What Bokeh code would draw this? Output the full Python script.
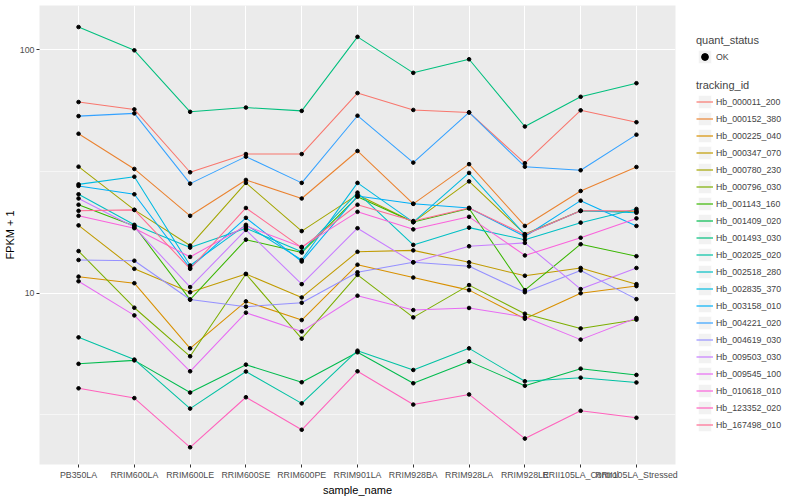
from bokeh.plotting import figure
from bokeh.layouts import row
from bokeh.models import FactorRange, Range1d, FixedTicker, Legend, LegendItem, PrintfTickFormatter
from bokeh.embed import file_html
from bokeh.resources import INLINE

FONT = "Liberation Sans"

samples = ["PB350LA", "RRIM600LA", "RRIM600LE", "RRIM600SE", "RRIM600PE", "RRIM901LA",
           "RRIM928BA", "RRIM928LA", "RRIM928LE", "RRII105LA_Control", "RRII105LA_Stressed"]

tracking_ids = ["Hb_000011_200", "Hb_000152_380", "Hb_000225_040", "Hb_000347_070",
                "Hb_000780_230", "Hb_000796_030", "Hb_001143_160", "Hb_001409_020",
                "Hb_001493_030", "Hb_002025_020", "Hb_002518_280", "Hb_002835_370",
                "Hb_003158_010", "Hb_004221_020", "Hb_004619_030", "Hb_009503_030",
                "Hb_009545_100", "Hb_010618_010", "Hb_123352_020", "Hb_167498_010"]

# FPKM + 1 per sample
Hb_000011_200 = [61.0, 56.9, 31.4, 37.3, 37.3, 66.4, 56.6, 55.3, 34.2, 56.4, 50.4]
Hb_000152_380 = [45.2, 32.4, 20.8, 29.2, 24.5, 38.4, 23.3, 33.9, 18.9, 26.3, 33.0]
Hb_000225_040 = [11.7, 11.0, 5.94, 9.26, 7.76, 13.1, 11.6, 10.3, 7.86, 10.0, 10.7]
Hb_000347_070 = [19.0, 12.6, 10.1, 12.0, 9.61, 14.8, 15.0, 13.4, 11.8, 12.7, 10.9]
Hb_000780_230 = [33.1, 22.0, 15.7, 28.4, 18.0, 25.4, 19.6, 28.8, 17.5, 21.8, 21.6]
Hb_000796_030 = [14.9, 8.72, 5.51, 12.0, 6.51, 11.9, 7.96, 10.8, 8.24, 7.17, 7.79]
Hb_001143_160 = [23.1, 18.9, 9.41, 16.6, 14.7, 24.9, 19.6, 22.3, 10.3, 15.9, 14.2]
Hb_001409_020 = [5.13, 5.30, 3.91, 5.09, 4.31, 5.72, 4.27, 5.25, 4.17, 4.90, 4.62]
Hb_001493_030 = [124.0, 99.5, 55.6, 57.9, 56.1, 113.0, 80.4, 91.4, 48.4, 64.1, 72.9]
Hb_002025_020 = [6.59, 5.34, 3.36, 4.77, 3.53, 5.81, 4.84, 5.94, 4.35, 4.50, 4.30]
Hb_002518_280 = [25.5, 19.1, 15.4, 18.5, 14.8, 25.9, 15.8, 18.6, 16.6, 19.5, 22.2]
Hb_002835_370 = [28.0, 30.1, 13.0, 19.1, 13.7, 28.4, 19.6, 31.2, 17.4, 21.8, 21.4]
Hb_003158_010 = [27.6, 25.5, 12.7, 20.4, 13.5, 25.1, 23.3, 22.4, 17.1, 24.0, 18.9]
Hb_004221_020 = [53.4, 54.8, 28.2, 36.4, 28.4, 53.6, 34.4, 55.3, 33.1, 32.0, 44.8]
Hb_004619_030 = [13.7, 13.6, 9.43, 8.81, 9.14, 12.2, 13.4, 12.9, 10.1, 12.4, 9.46]
Hb_009503_030 = [24.5, 18.7, 10.6, 18.2, 10.9, 18.5, 13.4, 15.6, 16.1, 10.4, 12.7]
Hb_009545_100 = [11.2, 8.11, 4.78, 8.32, 6.97, 9.77, 8.53, 8.70, 7.99, 6.45, 7.91]
Hb_010618_010 = [20.8, 18.5, 14.1, 18.9, 15.5, 21.6, 18.3, 20.6, 14.3, 16.9, 20.3]
Hb_123352_020 = [4.07, 3.71, 2.33, 3.74, 2.75, 4.78, 3.49, 3.84, 2.53, 3.29, 3.08]
Hb_167498_010 = [21.8, 22.0, 12.6, 22.4, 15.4, 23.1, 19.8, 22.4, 17.4, 21.8, 21.8]

series = [Hb_000011_200, Hb_000152_380, Hb_000225_040, Hb_000347_070, Hb_000780_230,
          Hb_000796_030, Hb_001143_160, Hb_001409_020, Hb_001493_030, Hb_002025_020,
          Hb_002518_280, Hb_002835_370, Hb_003158_010, Hb_004221_020, Hb_004619_030,
          Hb_009503_030, Hb_009545_100, Hb_010618_010, Hb_123352_020, Hb_167498_010]

colors = ["#F8766D", "#EA8331", "#D89000", "#C09B00", "#A3A500", "#7CAE00", "#39B600",
          "#00BB4E", "#00BF7D", "#00C1A3", "#00BFC4", "#00BAE0", "#00B0F6", "#35A2FF",
          "#9590FF", "#C77CFF", "#E76BF3", "#FA62DB", "#FF62BC", "#FF6C91"]

H = 498
p = figure(width=680, height=H,
           x_range=FactorRange(factors=samples, range_padding=0.2, range_padding_units="absolute"),
           y_range=Range1d(1.98, 152), y_axis_type="log",
           output_backend="svg", toolbar_location=None,
           min_border_left=32, min_border_right=5, min_border_top=5, min_border_bottom=0)

p.background_fill_color = "#EBEBEB"
p.border_fill_color = "white"
p.outline_line_color = None

p.xgrid.grid_line_color = "white"
p.xgrid.grid_line_width = 1.1
p.ygrid.ticker = FixedTicker(ticks=[10, 100], minor_ticks=[10 ** 0.5, 10 ** 1.5])
p.ygrid.grid_line_color = "white"
p.ygrid.grid_line_width = 1.1
p.ygrid.minor_grid_line_color = "white"
p.ygrid.minor_grid_line_width = 0.55

p.yaxis.ticker = FixedTicker(ticks=[10, 100])
p.yaxis.formatter = PrintfTickFormatter(format="%d")
for ax in (p.xaxis[0], p.yaxis[0]):
    ax.axis_line_color = None
    ax.major_tick_in = 0
    ax.major_tick_out = 3
    ax.major_tick_line_color = "#333333"
    ax.minor_tick_line_color = None
    ax.major_label_text_font = FONT
    ax.major_label_text_font_size = "8.8px"
    ax.major_label_text_color = "#4D4D4D"
    ax.major_label_standoff = 2
    ax.axis_label_text_font = FONT
    ax.axis_label_text_font_size = "11px"
    ax.axis_label_text_font_style = "normal"
    ax.axis_label_text_color = "black"
    ax.axis_label_standoff = 1
p.xaxis.axis_label = "sample_name"
p.yaxis.axis_label = "FPKM + 1"

for vals, col in zip(series, colors):
    p.line(x=samples, y=vals, line_color=col, line_width=1.05)
for vals in series:
    p.scatter(x=samples, y=vals, size=3.6, color="black")

# legend panel (key renderers hold one off-screen point so the legend draws them)
q = figure(width=104, height=H, x_range=Range1d(0, 104), y_range=Range1d(0, H),
           output_backend="svg", toolbar_location=None,
           x_axis_location=None, y_axis_location=None,
           min_border_left=0, min_border_right=0, min_border_top=0, min_border_bottom=0)
q.grid.visible = False
q.outline_line_color = None
q.background_fill_color = "white"
q.border_fill_color = "white"

off = [-50.0, -40.0]
bg = q.quad(left=[off[0]], right=[off[1]], top=[off[0]], bottom=[off[1]],
            fill_color="#F2F2F2", line_color="white", line_width=1)
ok_key = q.scatter(x=[off[0]], y=[off[0]], size=4, color="black")
key_lines = [q.line(x=off, y=off, line_color=col, line_width=1.2) for col in colors]


def style(leg):
    leg.border_line_color = None
    leg.background_fill_alpha = 0
    leg.padding = 0
    leg.margin = 0
    leg.spacing = 0
    leg.glyph_width = 17
    leg.glyph_height = 17
    leg.label_height = 17
    leg.label_standoff = 3
    leg.title_text_font = FONT
    leg.title_text_font_size = "11px"
    leg.title_text_font_style = "normal"
    leg.title_standoff = 2
    leg.label_text_font = FONT
    leg.label_text_font_size = "8.8px"


leg1 = Legend(items=[LegendItem(label="OK", renderers=[bg, ok_key])],
              title="quant_status", location=(16, H - 66 - 33))
leg2 = Legend(items=[LegendItem(label=t, renderers=[bg, key_lines[i]]) for i, t in enumerate(tracking_ids)],
              title="tracking_id", location=(16, H - 434 - 33))
style(leg1)
style(leg2)
q.add_layout(leg1)
q.add_layout(leg2)

layout = row(p, q)
open("out.html", "w").write(file_html(layout, INLINE))
